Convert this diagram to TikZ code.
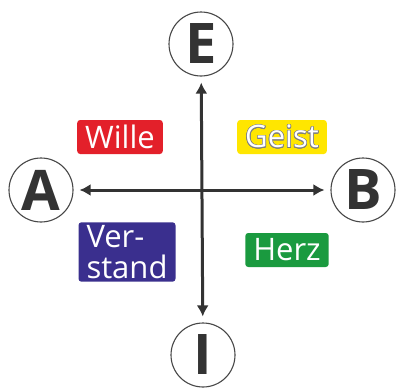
\documentclass[tikz,border=0pt]{standalone}
\usepackage{fontspec}
\setmainfont{Open Sans}
\usepackage{contour}
\contourlength{0.7pt}
\usetikzlibrary{arrows.meta}
\definecolor{inkgray}{HTML}{333333}
\definecolor{willered}{HTML}{E3202A}
\definecolor{geistyellow}{HTML}{FFE600}
\definecolor{verstandblue}{HTML}{3A2F8E}
\definecolor{herzgreen}{HTML}{1A9A3F}

\tikzset{
  pole/.style={circle,draw=inkgray!90,line width=1.1pt,minimum size=64pt,inner sep=0pt,
    text=inkgray,font=\fontsize{56}{56}\selectfont\bfseries},
  tag/.style={rounded corners=3pt,text=white,inner xsep=8pt,inner ysep=0pt,
    minimum height=34pt,font=\fontsize{31}{31}\selectfont},
  axis/.style={draw=inkgray,line width=3pt,{Latex[length=11pt,width=12pt]}-{Latex[length=11pt,width=12pt]},
    shorten <=6pt,shorten >=6pt}
}

\begin{document}
\begin{tikzpicture}[x=1pt,y=-1pt]
\useasboundingbox (0,0) rectangle (396,391);
% poles
\node[pole] (E) at (201,44) {E};
\node[pole] (I) at (203,355) {I};
\node[pole] (A) at (41,190) {A};
\node[pole] (B) at (363,190) {B};
% axes
\draw[axis] (A) -- (B);
\draw[axis] (E) -- (I);
% tags
\node[tag,fill=willered] (wille) at (120,137) {Wille};
\node[tag,fill=geistyellow] (geist) at (282,137) {\contour{gray}{Geist}};
\node[tag,fill=herzgreen] (herz) at (287,250) {Herz};
\node[tag,fill=verstandblue,align=left,inner ysep=3pt,
  font=\fontsize{31}{31}\selectfont] (verstand) at (127,252) {Ver-\\stand};
\end{tikzpicture}
\end{document}
